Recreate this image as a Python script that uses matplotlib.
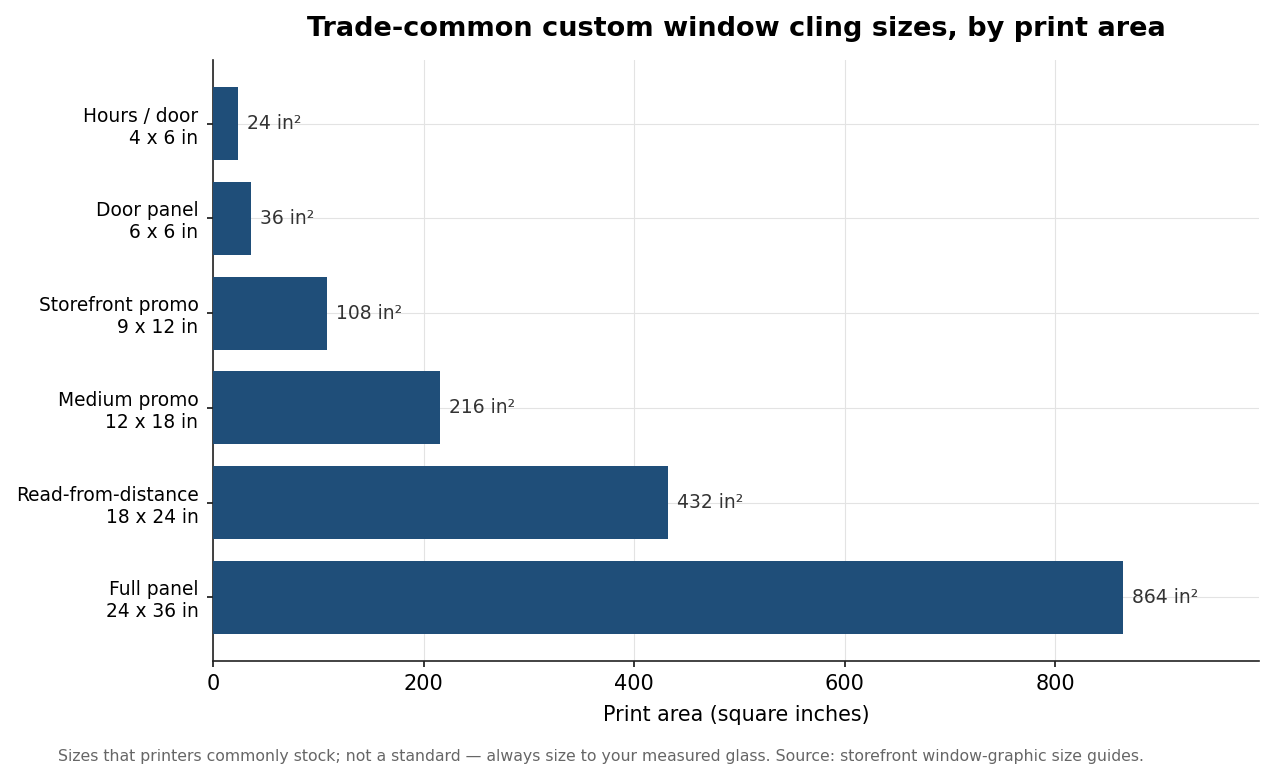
import matplotlib
matplotlib.use("Agg")
import matplotlib.pyplot as plt

categories = ["Hours / door\n4 x 6 in", "Door panel\n6 x 6 in", "Storefront promo\n9 x 12 in",
              "Medium promo\n12 x 18 in", "Read-from-distance\n18 x 24 in", "Full panel\n24 x 36 in"]
areas = [24, 36, 108, 216, 432, 864]
value_labels = [f"{v} in²" for v in areas]

bar_color = "#1f4e79"

fig = plt.figure(figsize=(12.74, 7.8), dpi=100)
ax = fig.add_axes([213/1274, 1-661/780, (1259-213)/1274, (661-60)/780])

ypos = list(range(len(categories)))
ax.barh(ypos, areas, height=0.77, color=bar_color, zorder=3)
ax.set_yticks(ypos)
ax.set_yticklabels(categories, fontsize=13.4)
ax.invert_yaxis()
ax.set_xlim(0, max(areas) * 1.15)

for y, v, lab in zip(ypos, areas, value_labels):
    ax.text(v + max(areas) * 0.01, y, lab, va="center", ha="left", fontsize=13.5, color="#333333", zorder=4)

ax.grid(True, color="#e3e3e3", linewidth=0.8, zorder=0)
ax.set_axisbelow(True)
for s in ["top", "right"]:
    ax.spines[s].set_visible(False)
for s in ["left", "bottom"]:
    ax.spines[s].set_color("#222222")
    ax.spines[s].set_linewidth(1.2)
ax.tick_params(axis="x", labelsize=15, length=4.5, width=1.1, pad=5)
ax.tick_params(axis="y", length=4.5, width=1.1, pad=6)
ax.set_xlabel("Print area (square inches)", fontsize=14.9, labelpad=8)
ax.set_title("Trade-common custom window cling sizes, by print area", fontsize=19.5, fontweight="bold", pad=17)

fig.text(58/1274, 1-757/780, "Sizes that printers commonly stock; not a standard — always size to your measured glass. Source: storefront window-graphic size guides.",
         fontsize=11.33, color="#666666", ha="left", va="center")

fig.savefig("out.png", dpi=100)
